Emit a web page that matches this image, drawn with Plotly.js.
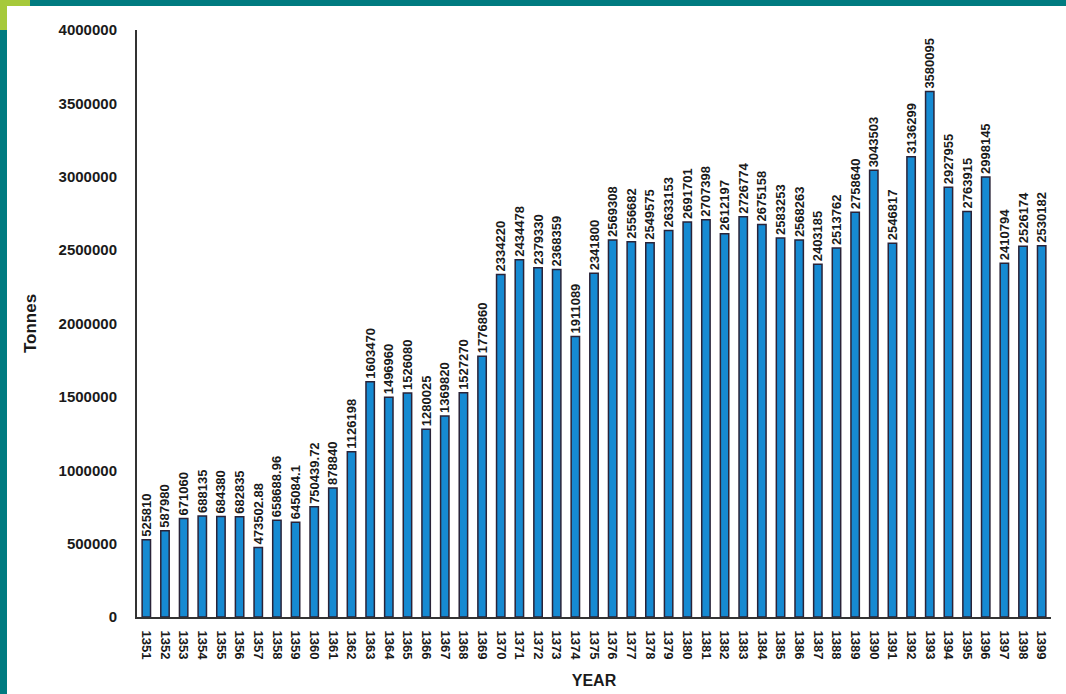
<!DOCTYPE html>
<html>
<head>
<meta charset="utf-8">
<script src="https://cdn.plot.ly/plotly-3.0.1.min.js"></script>
<style>
  html, body { margin: 0; padding: 0; background: #ffffff; }
  #wrap { position: relative; width: 1066px; height: 694px; overflow: hidden; }
  #chart { position: absolute; left: 0; top: 0; width: 1066px; height: 694px; }
  .strip { position: absolute; pointer-events: none; }
</style>
</head>
<body>
<div id="wrap">
  <div id="chart"></div>
  <div class="strip" style="left:0;top:0;width:1066px;height:6px;background:#007b80;"></div>
  <div class="strip" style="left:0;top:0;width:7px;height:694px;background:#007b80;"></div>
  <div class="strip" style="left:0;top:0;width:30px;height:6px;background:#a6c93a;"></div>
  <div class="strip" style="left:0;top:0;width:7px;height:30px;background:#a6c93a;"></div>
</div>
<script>
const years = ["1351","1352","1353","1354","1355","1356","1357","1358","1359","1360",
  "1361","1362","1363","1364","1365","1366","1367","1368","1369","1370",
  "1371","1372","1373","1374","1375","1376","1377","1378","1379","1380",
  "1381","1382","1383","1384","1385","1386","1387","1388","1389","1390",
  "1391","1392","1393","1394","1395","1396","1397","1398","1399"];
const tonnes = [525810, 587980, 671060, 688135, 684380, 682835, 473502.88, 658688.96, 645084.1, 750439.72,
  878840, 1126198, 1603470, 1496960, 1526080, 1280025, 1369820, 1527270, 1776860, 2334220,
  2434478, 2379330, 2368359, 1911089, 2341800, 2569308, 2556682, 2549575, 2633153, 2691701,
  2707398, 2612197, 2726774, 2675158, 2583253, 2568263, 2403185, 2513762, 2758640, 3043503,
  2546817, 3136299, 3580095, 2927955, 2763915, 2998145, 2410794, 2526174, 2530182];
const valueLabels = tonnes.map(v => String(v));
const yTicks = [0, 500000, 1000000, 1500000, 2000000, 2500000, 3000000, 3500000, 4000000];
const yTickText = yTicks.map(v => String(v));

const FONT = "Liberation Sans, Arial, sans-serif";

const trace = {
  type: "bar",
  x: years,
  y: tonnes,
  text: valueLabels,
  texttemplate: "%{text}",
  textposition: "outside",
  textangle: -90,
  constraintext: "none",
  cliponaxis: false,
  textfont: { family: FONT, size: 13, color: "#1a1a1a", weight: "bold" },
  marker: { color: "#168ad2", line: { color: "#2a2338", width: 1.5 } },
  hoverinfo: "x+y"
};

const layout = {
  width: 1066,
  height: 694,
  margin: { l: 137, r: 15, t: 30, b: 77 },
  paper_bgcolor: "rgba(0,0,0,0)",
  plot_bgcolor: "#ffffff",
  bargap: 0.55,
  showlegend: false,
  font: { family: FONT, color: "#1a1a1a" },
  xaxis: {
    type: "category",
    range: [-0.5, 48.5],
    tickangle: 90,
    tickfont: { family: FONT, size: 13, color: "#1a1a1a", weight: "bold" },
    ticklabelstandoff: 9,
    showline: true,
    linecolor: "#333333",
    linewidth: 2,
    ticks: "",
    showgrid: false,
    zeroline: false,
    title: { text: "YEAR", font: { family: FONT, size: 16, color: "#1a1a1a", weight: "bold" }, standoff: 16 }
  },
  yaxis: {
    range: [0, 4000000],
    tickmode: "array",
    tickvals: yTicks,
    ticktext: yTickText,
    tickfont: { family: FONT, size: 15, color: "#1a1a1a", weight: "bold" },
    ticklabelstandoff: 15,
    showline: true,
    linecolor: "#333333",
    linewidth: 2,
    ticks: "",
    showgrid: false,
    zeroline: false,
    title: { text: "Tonnes", font: { family: FONT, size: 17, color: "#1a1a1a", weight: "bold" }, standoff: 18 }
  }
};

Plotly.newPlot("chart", [trace], layout, { displayModeBar: false, staticPlot: true });
</script>
</body>
</html>
